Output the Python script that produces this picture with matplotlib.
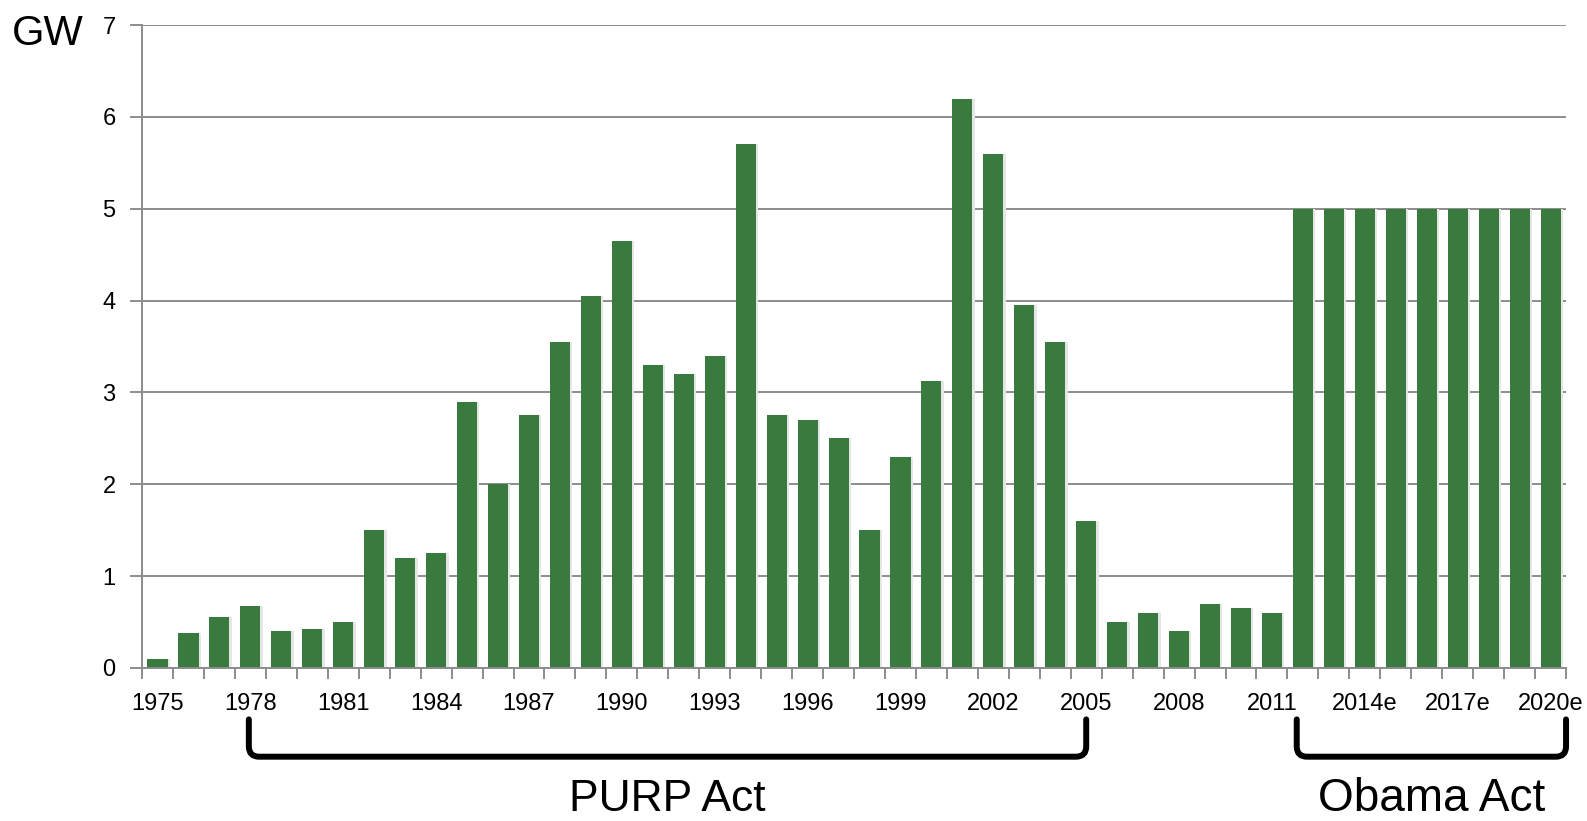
import matplotlib
matplotlib.use('Agg')
import numpy as np
from matplotlib import pyplot as plt
from matplotlib.path import Path
from matplotlib.patches import PathPatch
from matplotlib.transforms import blended_transform_factory

# data (GW added per year)
years = [str(y) for y in range(1975, 2012)] + [str(y) + 'e' for y in range(2012, 2021)]
capacity = [0.1, 0.38, 0.55, 0.68, 0.4, 0.42, 0.5, 1.5, 1.2, 1.25,
            2.9, 2.0, 2.75, 3.55, 4.05, 4.65, 3.3, 3.2, 3.4, 5.7,
            2.75, 2.7, 2.5, 1.5, 2.3, 3.12, 6.2, 5.6, 3.95, 3.55,
            1.6, 0.5, 0.6, 0.4, 0.7, 0.65, 0.6,
            5, 5, 5, 5, 5, 5, 5, 5, 5]
y_ticks = [0, 1, 2, 3, 4, 5, 6, 7]
# brackets: (first year, last year, label)
purp = ('1978', '2005', 'PURP Act')
obama = ('2012e', '2020e', 'Obama Act')

plt.rcParams['font.family'] = ['Liberation Sans', 'DejaVu Sans']

fig = plt.figure(figsize=(15.87, 8.21), dpi=100)
ax = fig.add_axes([0.0895, 0.1864, 0.8973, 0.7831])

x = np.arange(len(years))
# soft shadow behind the bars, like the original
ax.bar(x + 0.07, capacity, width=0.66, color='#E6E6E6', zorder=2)
ax.bar(x, capacity, width=0.65, color='#397A3F', zorder=3)

ax.set_xlim(-0.5, len(years) - 0.5)
ax.set_ylim(0, 7)

grey = '#8C8C8C'
ax.set_yticks(y_ticks)
ax.set_yticklabels([str(v) for v in y_ticks], fontsize=17)
ax.yaxis.grid(True, color=grey, linewidth=1.4, zorder=1)
ax.tick_params(axis='y', length=9, width=1.4, color=grey, pad=10)

lab_idx = x[::3]
ax.set_xticks(lab_idx)
ax.set_xticklabels([years[i] for i in lab_idx], fontsize=17)
ax.set_xticks(np.arange(-0.5, len(years)), minor=True)
ax.tick_params(axis='x', which='major', length=0, pad=18)
ax.tick_params(axis='x', which='minor', length=8, width=1.4, color=grey)

for s in ['top', 'right']:
    ax.spines[s].set_visible(False)
for s in ['left', 'bottom']:
    ax.spines[s].set_color(grey)
    ax.spines[s].set_linewidth(1.4)
    ax.spines[s].set_zorder(4)

fig.text(0.030, 0.945, 'GW', fontsize=30, ha='center', va='baseline')

# brackets below the axis
trans = blended_transform_factory(ax.transData, ax.transAxes)
top_y, bot_y = -0.080, -0.138
rx, ry = 0.33, 0.016


def bracket(x0, x1, label, text_y, size):
    verts = [(x0, top_y), (x0, bot_y + ry), (x0, bot_y), (x0 + rx, bot_y),
             (x1 - rx, bot_y), (x1, bot_y), (x1, bot_y + ry), (x1, top_y)]
    codes = [Path.MOVETO, Path.LINETO, Path.CURVE3, Path.CURVE3,
             Path.LINETO, Path.CURVE3, Path.CURVE3, Path.LINETO]
    patch = PathPatch(Path(verts, codes), transform=trans, fill=False,
                      edgecolor='black', linewidth=4.3, clip_on=False,
                      capstyle='round', joinstyle='round')
    ax.add_patch(patch)
    ax.text((x0 + x1) / 2, text_y, label, transform=trans, fontsize=size,
            ha='center', va='baseline', clip_on=False)


bracket(years.index(purp[0]) - 0.05, years.index(purp[1]), purp[2], -0.222, 32)
bracket(years.index(obama[0]) - 0.2, len(years) - 0.5, obama[2], -0.222, 33)

fig.savefig('out.png', dpi=100)
